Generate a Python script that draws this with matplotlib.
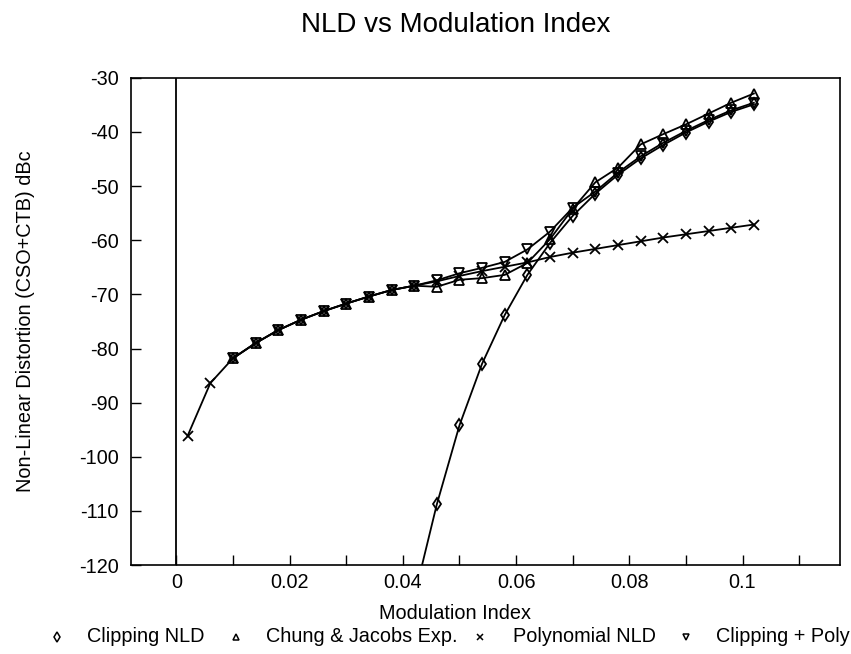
import matplotlib
matplotlib.use("Agg")
import matplotlib.pyplot as plt
from matplotlib.lines import Line2D

plt.rcParams['font.family'] = ['Liberation Sans', 'DejaVu Sans']
plt.rcParams['axes.unicode_minus'] = False

# modulation index sample points (step 0.004)
mi_poly = [0.002, 0.006, 0.010, 0.014, 0.018, 0.022, 0.026, 0.030, 0.034, 0.038, 0.042,
           0.046, 0.050, 0.054, 0.058, 0.062, 0.066, 0.070, 0.074, 0.078, 0.082, 0.086,
           0.090, 0.094, 0.098, 0.102]
poly_nld = [-96.1, -86.4, -81.8, -79.0, -76.6, -74.7, -73.1, -71.7, -70.4, -69.2, -68.4,
            -67.6, -66.6, -65.7, -64.9, -64.1, -63.1, -62.3, -61.6, -60.9, -60.2, -59.5,
            -58.9, -58.3, -57.7, -57.1]

mi_mix = mi_poly[2:]
chung_exp = [-81.8, -79.0, -76.6, -74.7, -73.1, -71.7, -70.4, -69.2, -68.4,
             -68.6, -67.3, -67.0, -66.4, -64.2, -59.8, -54.2, -49.3, -46.6, -42.3, -40.4,
             -38.6, -36.6, -34.6, -32.9]
clip_poly = [-81.8, -79.0, -76.6, -74.7, -73.1, -71.7, -70.4, -69.2, -68.4,
             -67.4, -66.1, -65.1, -64.0, -61.7, -58.4, -54.0, -51.0, -47.5, -44.5, -42.0,
             -39.8, -37.8, -36.0, -34.6]

mi_clip = mi_poly[10:]
clip_nld = [-126.0, -108.8, -94.2, -82.8, -73.8, -66.4, -60.5, -55.5, -51.4, -47.9, -44.9,
            -42.4, -40.1, -38.1, -36.3, -34.9]

x_ticks = [0, 0.02, 0.04, 0.06, 0.08, 0.1]
x_tick_labels = ['0', '0.02', '0.04', '0.06', '0.08', '0.1']
y_ticks = [-120, -110, -100, -90, -80, -70, -60, -50, -40, -30]
legend_labels = ['Clipping NLD', 'Chung & Jacobs Exp.', 'Polynomial NLD', 'Clipping + Poly']
legend_markers = ['d', '^', 'x', 'v']

fig = plt.figure(figsize=(8.51, 6.54), dpi=100)
ax = fig.add_axes([0.154, 0.136, 0.833, 0.745])

# open markers so overlapping triangles show up as hourglasses, like the scan
mk = dict(color='black', lw=1.3, markersize=6.5, markerfacecolor='none',
          markeredgecolor='black', markeredgewidth=1.3)
ax.plot(mi_poly, poly_nld, marker='x', **mk)
ax.plot(mi_mix, chung_exp, marker='^', **mk)
ax.plot(mi_mix, clip_poly, marker='v', **mk)
ax.plot(mi_clip, clip_nld, marker='d', **mk)

ax.axvline(0, color='black', lw=1.3)
ax.set_xlim(-0.008, 0.1172)
ax.set_ylim(-120, -30)
ax.set_xticks([i * 0.01 for i in range(12)], minor=True)
ax.set_xticks(x_ticks)
ax.set_xticklabels(x_tick_labels)
ax.set_yticks(y_ticks)
ax.tick_params(which='both', direction='in', length=7, width=1, labelsize=14.3)
ax.tick_params(axis='x', pad=6)
ax.tick_params(axis='y', pad=9)
for s in ax.spines.values():
    s.set_linewidth(1.2)

ax.set_xlabel('Modulation Index', fontsize=14.3)
ax.xaxis.set_label_coords(0.457, -0.08)
ax.set_ylabel('Non-Linear Distortion (CSO+CTB) dBc', fontsize=14.3)
ax.yaxis.set_label_coords(-0.135, 0.5)
fig.text(0.535, 0.962, 'NLD vs Modulation Index', fontsize=20, ha='center', va='center')

# legend row under the x label
leg_y = 1 - 637 / 654
marker_x = [57, 236, 480, 686]
text_x = [87, 266, 513, 716]
for m, lab, mx, tx in zip(legend_markers, legend_labels, marker_x, text_x):
    fig.add_artist(Line2D([mx / 851], [leg_y], transform=fig.transFigure, ls='none',
                          marker=m, markersize=5, color='black', markerfacecolor='white',
                          markeredgewidth=1.1))
    fig.text(tx / 851, leg_y, lab, fontsize=14.3, ha='left', va='center')

fig.savefig('out.png', dpi=100)
